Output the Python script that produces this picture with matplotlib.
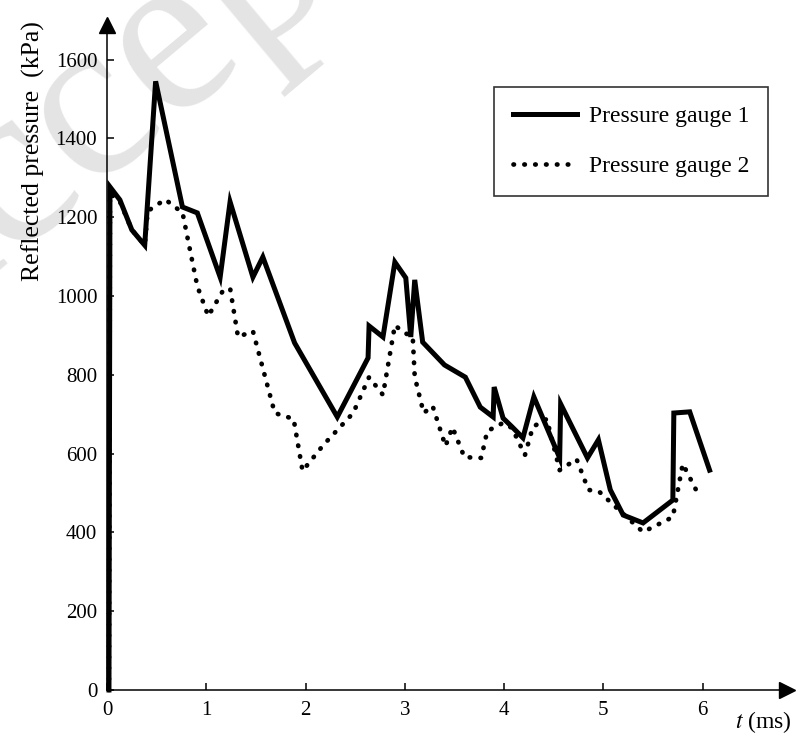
import matplotlib
matplotlib.use("Agg")
import matplotlib.pyplot as plt

plt.rcParams['font.family'] = ['Liberation Serif', 'DejaVu Serif']
plt.rcParams['mathtext.fontset'] = 'stix'

# time (ms) and reflected pressure (kPa)
t1 = [0.02, 0.03, 0.13, 0.25, 0.38, 0.49, 0.76, 0.91, 1.14, 1.24, 1.47, 1.57, 1.89,
      2.32, 2.63, 2.64, 2.78, 2.90, 3.01, 3.06, 3.10, 3.18, 3.40, 3.61, 3.76, 3.89,
      3.90, 3.99, 4.08, 4.19, 4.30, 4.56, 4.57, 4.84, 4.95, 5.07, 5.20, 5.40, 5.70,
      5.71, 5.87, 6.07]
p1 = [0, 1277, 1244, 1168, 1129, 1545, 1226, 1211, 1048, 1239, 1048, 1099, 881,
      693, 843, 924, 896, 1086, 1046, 896, 1041, 883, 825, 794, 718, 693,
      769, 690, 668, 640, 744, 589, 726, 589, 635, 508, 444, 424, 482,
      703, 706, 558]

t2 = [0.02, 0.03, 0.13, 0.25, 0.38, 0.41, 0.48, 0.59, 0.67, 0.76, 0.82, 0.91, 1.02,
      1.16, 1.24, 1.32, 1.47, 1.69, 1.88, 1.97, 2.18, 2.48, 2.64, 2.78, 2.90, 2.98,
      3.08, 3.10, 3.19, 3.28, 3.41, 3.48, 3.60, 3.77, 3.83, 3.99, 4.08, 4.21, 4.29,
      4.43, 4.56, 4.73, 4.85, 4.96, 5.10, 5.40, 5.70, 5.80, 5.97]
p2 = [0, 1260, 1240, 1168, 1129, 1215, 1228, 1245, 1228, 1213, 1137, 1025, 949,
      1010, 1020, 896, 911, 703, 688, 556, 622, 703, 794, 749, 926, 909,
      896, 795, 703, 721, 619, 667, 591, 589, 657, 678, 665, 596, 668,
      688, 558, 586, 508, 503, 470, 401, 439, 574, 490]

yticks = [0, 200, 400, 600, 800, 1000, 1200, 1400, 1600]
xticks = [0, 1, 2, 3, 4, 5, 6]

fig = plt.figure(figsize=(7.96, 7.33), dpi=100)
ax = fig.add_axes([0.1344, 0.0587, 0.8543, 0.9072])

# faint watermark in the background
fig.text(0.23, 0.945, 'Accepted', fontsize=170, color='#e4e4e4', rotation=40,
         ha='center', va='center', zorder=-1)

ax.patch.set_alpha(0)
ax.plot(t1, p1, color='black', lw=3.6, solid_joinstyle='miter', clip_on=False,
        label='Pressure gauge 1', zorder=3)
ax.plot(t2, p2, color='black', lw=3.4, linestyle=(0, (0.1, 2.2)),
        dash_capstyle='round', clip_on=False, label='Pressure gauge 2', zorder=3)

ax.set_xlim(0, 6.85)
ax.set_ylim(0, 1688)
for s in ['top', 'right']:
    ax.spines[s].set_visible(False)
for s in ['left', 'bottom']:
    ax.spines[s].set_linewidth(1.1)

ax.plot(1, 0, marker='>', ms=11, color='k', transform=ax.get_yaxis_transform(),
        clip_on=False)
ax.plot(0, 1, marker='^', ms=11, color='k', transform=ax.get_xaxis_transform(),
        clip_on=False)

ax.set_xticks(xticks)
ax.set_yticks(yticks)
ax.tick_params(direction='in', length=5, width=1.1, labelsize=15)
ax.tick_params(axis='x', pad=8)
ax.tick_params(axis='y', pad=7)

fig.text(33 / 796, 1 - 151 / 733, 'Reflected pressure  (kPa)', rotation=90,
         ha='center', va='center', fontsize=18.5)
fig.text(0.995, 1 - 722 / 733, '$t$ (ms)', ha='right', va='center', fontsize=17)

leg = ax.legend(loc='upper right', bbox_to_anchor=(0.972, 0.907), borderaxespad=0,
                fontsize=17, handlelength=2.7, handletextpad=0.5, labelspacing=1.2,
                borderpad=0.8, fancybox=False, frameon=True)
leg.get_frame().set_edgecolor('black')
leg.get_frame().set_linewidth(1.2)

fig.savefig('out.png', dpi=100)
